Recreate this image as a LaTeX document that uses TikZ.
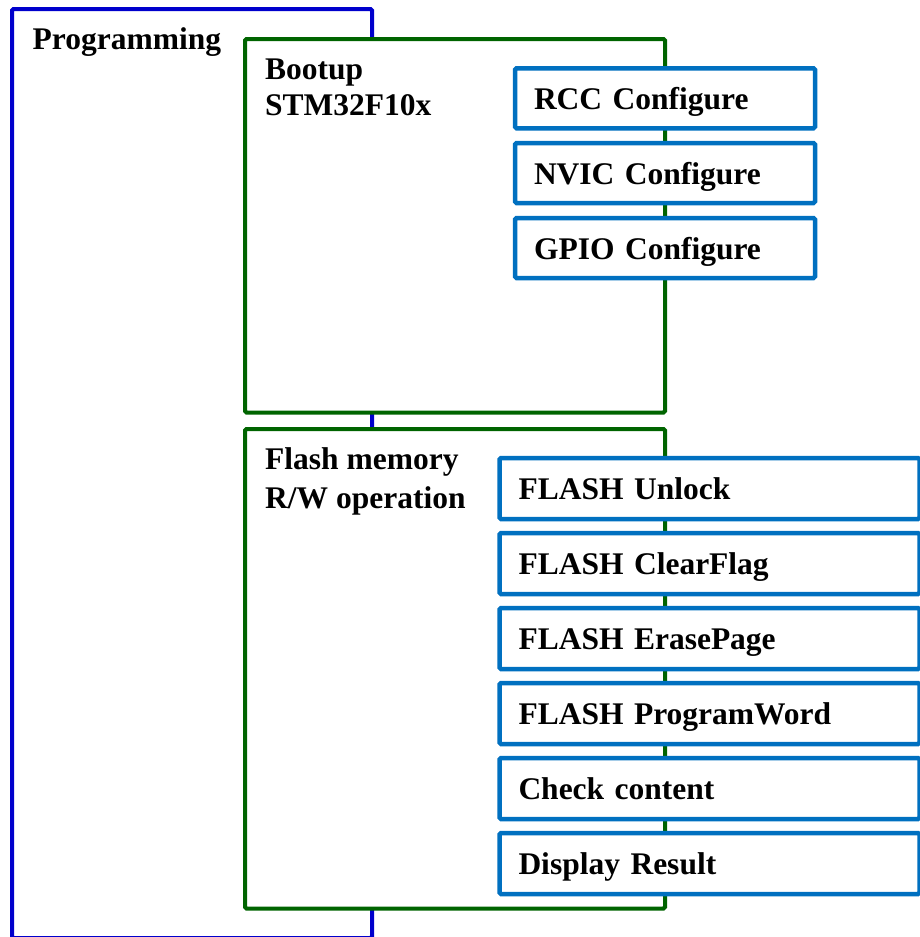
\documentclass[tikz,border=0pt]{standalone}
\usepackage{fontspec}
\setmainfont{Liberation Serif}
\definecolor{outerblue}{RGB}{0,0,204}
\definecolor{groupgreen}{RGB}{0,100,0}
\definecolor{stepblue}{RGB}{0,112,192}
\begin{document}
\begin{tikzpicture}[x=1pt,y=-1pt,
  frame/.style={draw, line width=4pt, rounded corners=1.5pt, fill=white,
    anchor=north west, inner sep=0pt, outer sep=0pt},
  outerframe/.style={frame, draw=outerblue, fill=none},
  groupframe/.style={frame, draw=groupgreen},
  stepbox/.style={frame, draw=stepblue, line width=4.5pt, align=left, inner xsep=19pt,
    font=\fontsize{31.5pt}{36pt}\selectfont\bfseries,
    text height=22pt, text depth=0pt},
  caption/.style={anchor=base west, inner sep=0pt,
    font=\fontsize{31.5pt}{36pt}\selectfont\bfseries}]
\useasboundingbox (0,0) rectangle (920,937);

% outer frame
\node[outerframe, minimum width=360pt, minimum height=929pt] (prog) at (12,9) {};
\node[caption] (progtitle) at (32.5,49) {Programming};

% boot-up group
\node[groupframe, minimum width=420pt, minimum height=373.5pt] (boot) at (245,39) {};
\node[caption] (boottitleA) at (265,79) {Bootup};
\node[caption] (boottitleB) at (265,115) {STM32F10x};

\node[stepbox, minimum height=60pt, text width=262pt] (rcc)  at (515,68.3)  {RCC Configure};
\node[stepbox, minimum height=60pt, text width=262pt] (nvic) at (515,143) {NVIC Configure};
\node[stepbox, minimum height=60pt, text width=262pt] (gpio) at (515,218) {GPIO Configure};

% flash memory group
\node[groupframe, minimum width=420pt, minimum height=479.5pt] (flash) at (245,429) {};
\node[caption] (flashtitleA) at (265,469.3) {Flash memory};
\node[caption] (flashtitleB) at (265,508.3) {R/W operation};

\node[stepbox, minimum height=61pt, text width=382pt] (unlock) at (499.5,458) {FLASH Unlock};
\node[stepbox, minimum height=61pt, text width=382pt] (clear)  at (499.5,533) {FLASH ClearFlag};
\node[stepbox, minimum height=61pt, text width=382pt] (erase)  at (499.5,608) {FLASH ErasePage};
\node[stepbox, minimum height=61pt, text width=382pt] (write)  at (499.5,683) {FLASH ProgramWord};
\node[stepbox, minimum height=61pt, text width=382pt] (check)  at (499.5,758) {Check content};
\node[stepbox, minimum height=61pt, text width=382pt] (show)   at (499.5,833) {Display Result};
\end{tikzpicture}
\end{document}
